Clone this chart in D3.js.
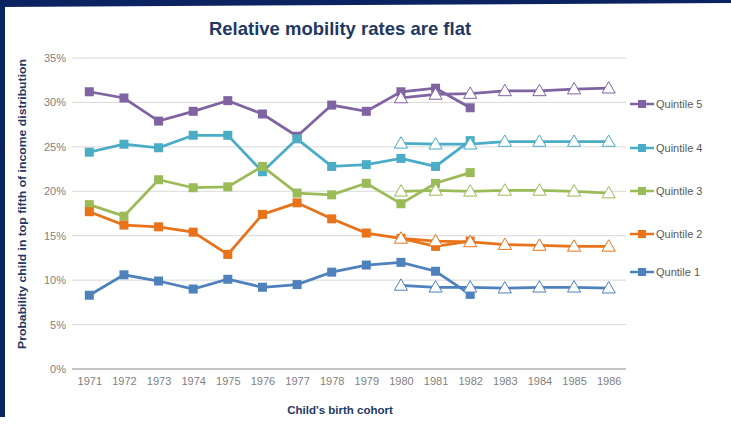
<!DOCTYPE html>
<html>
<head>
<meta charset="utf-8">
<script src="https://cdn.jsdelivr.net/npm/d3@7"></script>
<style>
  body { margin: 0; background: #fff; }
  svg { display: block; font-family: "Liberation Sans", Arial, sans-serif; }
</style>
</head>
<body>
<svg id="chart" width="731" height="425"></svg>
<script>
// cohort years
const years = [1971,1972,1973,1974,1975,1976,1977,1978,1979,1980,1981,1982,1983,1984,1985,1986];
const actualYears = [1971,1972,1973,1974,1975,1976,1977,1978,1979,1980,1981,1982];
const projYears = [1980,1981,1982,1983,1984,1985,1986];

// observed rates (%) - squares
const q5 = [31.2,30.5,27.9,29.0,30.2,28.7,26.2,29.7,29.0,31.2,31.6,29.4];
const q4 = [24.4,25.3,24.9,26.3,26.3,22.2,25.9,22.8,23.0,23.7,22.8,25.7];
const q3 = [18.5,17.2,21.3,20.4,20.5,22.8,19.8,19.6,20.9,18.6,20.9,22.1];
const q2 = [17.7,16.2,16.0,15.4,12.9,17.4,18.7,16.9,15.3,14.7,13.8,14.4];
const q1 = [8.3,10.6,9.9,9.0,10.1,9.2,9.5,10.9,11.7,12.0,11.0,8.4];

// predicted rates (%) - triangles
const q5p = [30.5,30.9,31.0,31.3,31.3,31.5,31.6];
const q4p = [25.4,25.3,25.3,25.6,25.6,25.6,25.6];
const q3p = [20.0,20.1,20.0,20.1,20.1,20.0,19.8];
const q2p = [14.7,14.4,14.3,14.0,13.9,13.8,13.8];
const q1p = [9.4,9.2,9.2,9.1,9.2,9.2,9.1];

const seriesNames = ["Quintile 5","Quintile 4","Quintile 3","Quintile 2","Quntile 1"];
const seriesColors = ["#8064a2","#4bacc6","#9bbb59","#e8731a","#4f81bd"];
const yTicks = [0,5,10,15,20,25,30,35];

const series = [
  {name: seriesNames[0], color: seriesColors[0], obs: q5, proj: q5p},
  {name: seriesNames[1], color: seriesColors[1], obs: q4, proj: q4p},
  {name: seriesNames[2], color: seriesColors[2], obs: q3, proj: q3p},
  {name: seriesNames[3], color: seriesColors[3], obs: q2, proj: q2p},
  {name: seriesNames[4], color: seriesColors[4], obs: q1, proj: q1p}
];

const svg = d3.select("#chart");
const navy = "#0b2461";

// frame
svg.append("rect").attr("x", 0).attr("y", 0).attr("width", 5).attr("height", 417).attr("fill", navy);
svg.append("polygon").attr("points", "0,0 731,0 731,3 0,7").attr("fill", navy);

// title
svg.append("text")
  .attr("x", 340).attr("y", 35)
  .attr("text-anchor", "middle")
  .attr("font-size", 18.5).attr("font-weight", "bold")
  .attr("fill", "#1f3864")
  .text("Relative mobility rates are flat");

const x = d3.scalePoint().domain(years).range([72, 626]).padding(0.5);
const y = d3.scaleLinear().domain([0, 35]).range([369, 58]);

// gridlines
svg.append("g").selectAll("line").data(yTicks).join("line")
  .attr("x1", 72).attr("x2", 626)
  .attr("y1", d => y(d)).attr("y2", d => y(d))
  .attr("stroke", d => d === 0 ? "#8c8c8c" : "#d9d9d9")
  .attr("stroke-width", d => d === 0 ? 1.2 : 1);

// y axis
const yAxis = svg.append("g").attr("transform", "translate(72,0)")
  .call(d3.axisLeft(y).tickValues(yTicks).tickSize(0).tickPadding(6).tickFormat(d => d + "%"));
yAxis.select(".domain").remove();
yAxis.selectAll("text").attr("font-size", 11).attr("fill", "#7f7f7f").attr("font-family", "Liberation Sans, Arial, sans-serif");

// x axis
const xAxis = svg.append("g").attr("transform", "translate(0,369)")
  .call(d3.axisBottom(x).tickSize(0).tickPadding(8));
xAxis.select(".domain").remove();
xAxis.selectAll("text").attr("font-size", 11).attr("fill", "#7f7f7f").attr("font-family", "Liberation Sans, Arial, sans-serif");

// axis titles
svg.append("text")
  .attr("x", 340).attr("y", 414)
  .attr("text-anchor", "middle")
  .attr("font-size", 11.5).attr("font-weight", "bold")
  .attr("fill", "#1f3864")
  .text("Child's birth cohort");

svg.append("text")
  .attr("transform", "translate(26,204) rotate(-90)")
  .attr("text-anchor", "middle")
  .attr("font-size", 11).attr("font-weight", "bold")
  .attr("textLength", 290).attr("lengthAdjust", "spacingAndGlyphs")
  .attr("fill", "#1f3864")
  .text("Probability child in top fifth of income distribution");

const line = d3.line().x(d => x(d[0])).y(d => y(d[1]));
const tri = d3.symbol().type(d3.symbolTriangle).size(75);

const plot = svg.append("g");
series.forEach(s => {
  const obs = actualYears.map((yr, i) => [yr, s.obs[i]]);
  const proj = projYears.map((yr, i) => [yr, s.proj[i]]);
  const g = plot.append("g");
  g.append("path").datum(proj).attr("d", line)
    .attr("fill", "none").attr("stroke", s.color).attr("stroke-width", 2.75);
  g.append("path").datum(obs).attr("d", line)
    .attr("fill", "none").attr("stroke", s.color).attr("stroke-width", 2.75);
  g.selectAll("rect").data(obs).join("rect")
    .attr("x", d => x(d[0]) - 4.5).attr("y", d => y(d[1]) - 4.5)
    .attr("width", 9).attr("height", 9)
    .attr("fill", s.color);
  g.selectAll("path.tri").data(proj).join("path")
    .attr("class", "tri")
    .attr("transform", d => `translate(${x(d[0])},${y(d[1]) + 1})`)
    .attr("d", tri)
    .attr("fill", "#fff").attr("stroke", s.color).attr("stroke-width", 1);
});

// legend
const legendY = [104, 148, 191, 234, 272];
const legend = svg.append("g").selectAll("g").data(series).join("g")
  .attr("transform", (d, i) => `translate(630,${legendY[i]})`);
legend.append("line").attr("x1", 0).attr("x2", 24).attr("y1", 0).attr("y2", 0)
  .attr("stroke", d => d.color).attr("stroke-width", 2.5);
legend.append("rect").attr("x", 8).attr("y", -4).attr("width", 8).attr("height", 8)
  .attr("fill", d => d.color);
legend.append("text").attr("x", 26).attr("y", 4)
  .attr("font-size", 11).attr("fill", "#595959")
  .text(d => d.name);
</script>
</body>
</html>
